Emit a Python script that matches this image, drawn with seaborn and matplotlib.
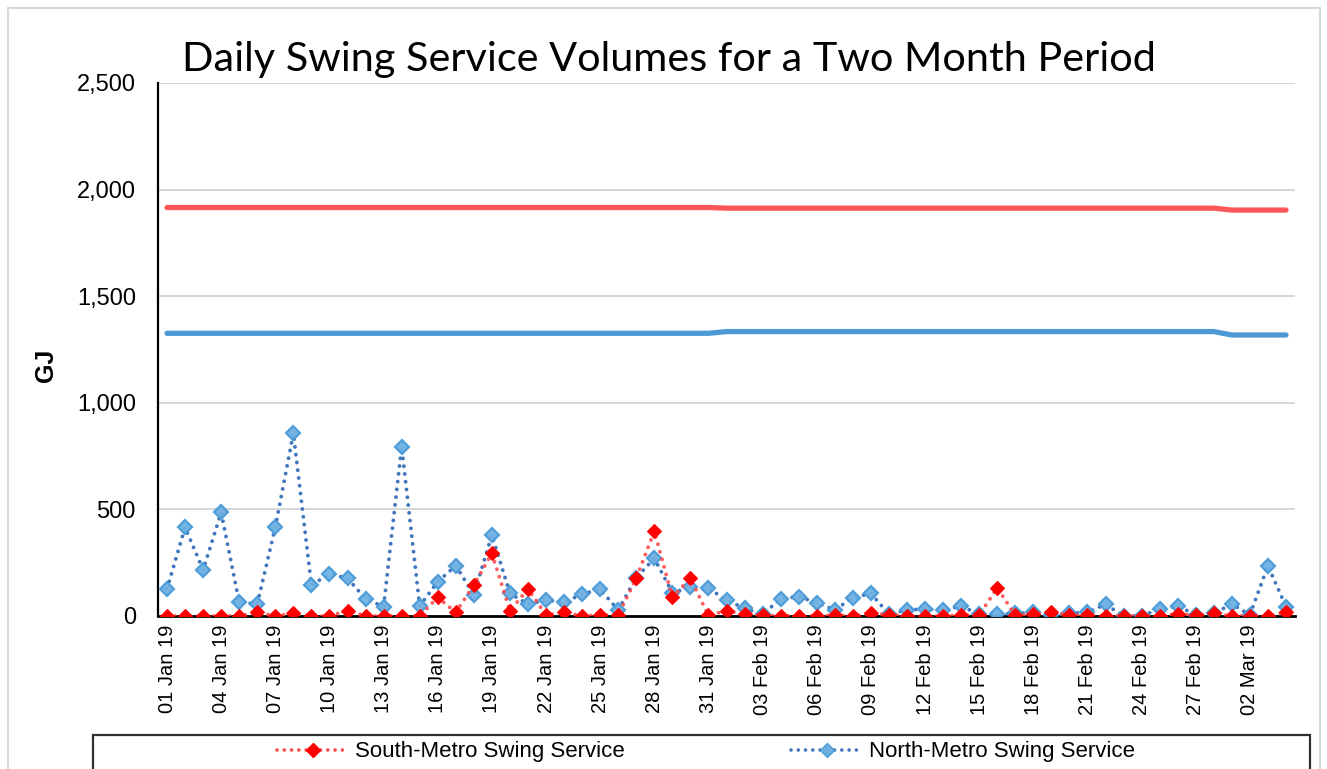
import numpy as np
import pandas as pd
import matplotlib
matplotlib.use("Agg")
import matplotlib.pyplot as plt
from matplotlib.patches import Rectangle
from matplotlib.lines import Line2D
from matplotlib.ticker import FuncFormatter
import seaborn as sns

# ---------------- data ----------------
dates = pd.date_range("2019-01-01", "2019-03-04", freq="D")

south_swing = [0, 0, 0, 0, 0, 17, 0, 12, 0, 0, 25, 0, 0, 0, 0, 88,
               17, 145, 294, 25, 127, 5, 17, 0, 5, 5, 177, 399, 88, 177, 3, 25,
               8, 3, 0, 0, 0, 3, 0, 14, 5, 0, 0, 0, 3, 3, 133, 3,
               8, 20, 3, 3, 0, 0, 0, 0, 10, 3, 12, 0, 0, 0, 17]
north_swing = [127, 416, 216, 486, 64, 56, 416, 857, 145, 197, 177, 80, 44, 794, 47, 161,
               236, 100, 380, 106, 55, 75, 64, 103, 125, 28, 180, 270, 109, 135, 130, 75,
               36, 8, 80, 91, 62, 28, 86, 106, 8, 28, 33, 28, 47, 8, 8, 12,
               17, 3, 12, 17, 55, 0, 0, 33, 47, 5, 12, 56, 5, 236, 44]
south_capacity = [1916] * 31 + [1913] * 28 + [1904] * 4
north_capacity = [1326] * 31 + [1334] * 28 + [1318] * 4

tick_labels = ["01 Jan 19", "04 Jan 19", "07 Jan 19", "10 Jan 19", "13 Jan 19",
               "16 Jan 19", "19 Jan 19", "22 Jan 19", "25 Jan 19", "28 Jan 19",
               "31 Jan 19", "03 Feb 19", "06 Feb 19", "09 Feb 19", "12 Feb 19",
               "15 Feb 19", "18 Feb 19", "21 Feb 19", "24 Feb 19", "27 Feb 19",
               "02 Mar 19"]

title = "Daily Swing Service Volumes for a Two Month Period"

df = pd.DataFrame({
    "pos": np.arange(len(dates)),
    "date": dates,
    "south": south_swing,
    "north": north_swing,
    "south_cap": south_capacity,
    "north_cap": north_capacity,
})

# ---------------- style ----------------
sns.set_style("white")
plt.rcParams["font.family"] = ["Liberation Sans", "DejaVu Sans"]
plt.rcParams["text.color"] = "black"

W, H = 1327, 769
fig = plt.figure(figsize=(W / 100, H / 100), dpi=100)
ax = fig.add_axes([158 / W, 1 - 616 / H, (1295 - 158) / W, (616 - 83) / H])

RED_CAP = "#FF5757"
BLUE_CAP = "#4C99D3"
RED_DOT = "#FF4B4B"
RED_MK = "#FF0000"
BLUE_DOT = "#3F76BD"
BLUE_MK = "#4A9BD8"

# capacity lines
sns.lineplot(data=df, x="pos", y="south_cap", ax=ax, color=RED_CAP, linewidth=3.8,
             solid_capstyle="round", zorder=3)
sns.lineplot(data=df, x="pos", y="north_cap", ax=ax, color=BLUE_CAP, linewidth=3.8,
             solid_capstyle="round", zorder=3)

dot_ls = (0, (0.01, 2.0))
# north swing
sns.lineplot(data=df, x="pos", y="north", ax=ax, color=BLUE_DOT, linewidth=2.8,
             linestyle=dot_ls, dash_capstyle="round", zorder=4)
ax.plot(df["pos"], df["north"], linestyle="none", marker="D", markersize=7.5,
        markerfacecolor="#6FB0E2", markeredgecolor=BLUE_MK, markeredgewidth=1.6,
        alpha=0.95, zorder=5)
# south swing
sns.lineplot(data=df, x="pos", y="south", ax=ax, color=RED_DOT, linewidth=2.8,
             linestyle=dot_ls, dash_capstyle="round", zorder=6, alpha=0.9)
ax.plot(df["pos"], df["south"], linestyle="none", marker="D", markersize=7.5,
        markerfacecolor=RED_MK, markeredgecolor=RED_MK, markeredgewidth=0.8, zorder=7)

# axes
ax.set_xlim(-0.5, len(dates) - 0.5)
ax.set_ylim(0, 2500)
ax.set_yticks(np.arange(0, 2501, 500))
ax.yaxis.set_major_formatter(FuncFormatter(lambda v, p: f"{int(v):,}"))
ax.set_xticks(np.arange(0, len(dates), 3))
ax.set_xticklabels(tick_labels, rotation=90)
ax.tick_params(axis="y", labelsize=17, length=0, pad=16, colors="black")
ax.tick_params(axis="x", labelsize=14.5, length=0, pad=6, colors="black")
ax.grid(axis="y", color="#D0D0D0", linewidth=1.2)
ax.set_axisbelow(True)
for s in ["top", "right"]:
    ax.spines[s].set_visible(False)
ax.spines["left"].set_color("black")
ax.spines["left"].set_linewidth(1.6)
ax.spines["bottom"].set_color("black")
ax.spines["bottom"].set_linewidth(2.0)
ax.set_xlabel("")
ax.set_ylabel("GJ", fontsize=18, fontweight="bold", color="black")
ax.yaxis.set_label_coords(-100 / (1295 - 158), 0.47)

# title
fig.text(669 / W, 1 - 60 / H, title, ha="center", va="center", fontsize=29.8,
         color="black", family=["Lato", "DejaVu Sans"])

# outer border of chart area
fig.patches.append(Rectangle((8 / W, -0.05), (1320 - 8) / W, 1.05 - 8 / H,
                             transform=fig.transFigure, fill=False,
                             edgecolor="#D9D9D9", linewidth=1.5, zorder=0))
# legend frame
fig.patches.append(Rectangle((93 / W, -0.05), (1310 - 93) / W, 0.05 + 1 - 735 / H,
                             transform=fig.transFigure, fill=False,
                             edgecolor="#303030", linewidth=1.6, zorder=1))

handles = [
    Line2D([], [], color=RED_DOT, linewidth=2.6, linestyle=dot_ls, dash_capstyle="round",
           marker="D", markersize=7, markerfacecolor=RED_MK, markeredgecolor=RED_MK),
    Line2D([], [], color=BLUE_DOT, linewidth=2.6, linestyle=dot_ls, dash_capstyle="round",
           marker="D", markersize=7, markerfacecolor="#6FB0E2", markeredgecolor=BLUE_MK),
]
fig.legend(handles, ["South-Metro Swing Service", "North-Metro Swing Service"],
           loc="center", bbox_to_anchor=(706 / W, 1 - 752 / H), ncol=2, frameon=False,
           fontsize=16, handlelength=3.2, handletextpad=0.3, columnspacing=7.5,
           borderaxespad=0, borderpad=0)

fig.savefig("out.png", dpi=100)
